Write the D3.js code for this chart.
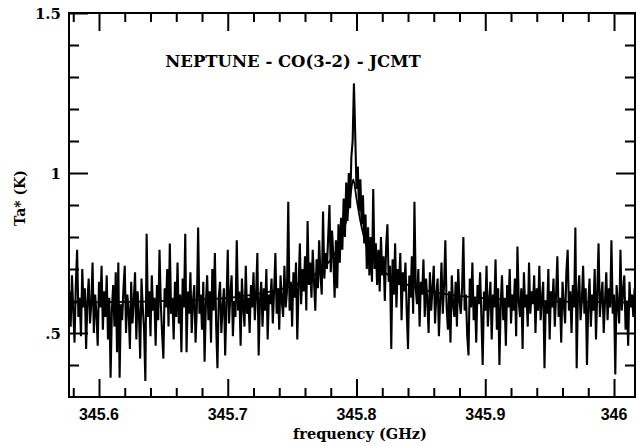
<!DOCTYPE html>
<html>
<head>
<meta charset="utf-8">
<script src="https://cdn.jsdelivr.net/npm/d3@7"></script>
<style>
  body { margin: 0; background: #fff; }
  .tick line { stroke: #000; stroke-width: 2px; }
  .domain { display: none; }
</style>
</head>
<body>
<div id="chart"></div>
<script>
// spectrum channels: first channel frequency and channel width (GHz)
var freqStart = 345.577;
var freqStep = 0.001;

// antenna temperature per channel (K)
var ta = [
  0.63, 0.52, 0.68, 0.57, 0.47, 0.65, 0.76, 0.55, 0.61, 0.49, 0.70, 0.58, 0.64, 0.45, 0.60, 0.67, 0.53, 0.59, 0.72, 0.50,
  0.62, 0.56, 0.46, 0.66, 0.58, 0.71, 0.51, 0.63, 0.55, 0.68, 0.48, 0.61, 0.36, 0.57, 0.65, 0.52, 0.69, 0.44, 0.72, 0.36,
  0.59, 0.54, 0.64, 0.71, 0.50, 0.62, 0.57, 0.45, 0.66, 0.53, 0.60, 0.69, 0.48, 0.63, 0.56, 0.42, 0.67, 0.58, 0.51, 0.35,
  0.81, 0.55, 0.63, 0.49, 0.68, 0.57, 0.61, 0.46, 0.65, 0.54, 0.76, 0.59, 0.50, 0.42, 0.64, 0.58, 0.70, 0.52, 0.78, 0.56,
  0.61, 0.48, 0.66, 0.55, 0.72, 0.53, 0.62, 0.44, 0.67, 0.58, 0.81, 0.44, 0.63, 0.56, 0.69, 0.50, 0.60, 0.65, 0.47, 0.58,
  0.83, 0.56, 0.62, 0.51, 0.66, 0.41, 0.59, 0.68, 0.54, 0.63, 0.47, 0.70, 0.57, 0.75, 0.52, 0.39, 0.61, 0.66, 0.50, 0.58,
  0.64, 0.43, 0.59, 0.76, 0.53, 0.62, 0.68, 0.49, 0.60, 0.55, 0.79, 0.57, 0.63, 0.46, 0.67, 0.58, 0.52, 0.71, 0.56, 0.61,
  0.50, 0.65, 0.58, 0.69, 0.54, 0.62, 0.75, 0.43, 0.60, 0.66, 0.52, 0.64, 0.57, 0.70, 0.48, 0.62, 0.59, 0.67, 0.53, 0.63,
  0.75, 0.56, 0.64, 0.51, 0.68, 0.60, 0.55, 0.71, 0.58, 0.63, 0.91, 0.57, 0.66, 0.52, 0.69, 0.61, 0.72, 0.48, 0.64, 0.78,
  0.59, 0.70, 0.63, 0.74, 0.57, 0.85, 0.65, 0.72, 0.61, 0.76, 0.66, 0.57, 0.73, 0.64, 0.79, 0.68, 0.62, 0.88, 0.67, 0.75,
  0.70, 0.80, 0.90, 0.69, 0.82, 0.74, 0.61, 0.79, 0.64, 0.84, 0.72, 0.86, 0.76, 0.92, 0.80, 0.97, 0.85, 1.00, 0.89, 1.05,
  1.10, 1.28, 1.12, 0.95, 1.02, 0.88, 0.98, 0.84, 0.93, 0.78, 0.87, 0.70, 0.83, 0.68, 0.80, 0.66, 0.95, 0.70, 0.78, 0.65,
  0.76, 0.63, 0.80, 0.68, 0.74, 0.60, 0.77, 0.84, 0.66, 0.71, 0.45, 0.73, 0.62, 0.78, 0.58, 0.70, 0.65, 0.75, 0.54, 0.69,
  0.63, 0.72, 0.57, 0.45, 0.68, 0.61, 0.74, 0.56, 0.91, 0.64, 0.59, 0.70, 0.52, 0.66, 0.62, 0.73, 0.55, 0.67, 0.60, 0.50,
  0.69, 0.57, 0.64, 0.71, 0.53, 0.62, 0.67, 0.49, 0.60, 0.72, 0.56, 0.65, 0.79, 0.58, 0.51, 0.63, 0.47, 0.68, 0.59, 0.55,
  0.66, 0.52, 0.70, 0.60, 0.56, 0.64, 0.80, 0.57, 0.62, 0.49, 0.43, 0.67, 0.58, 0.72, 0.54, 0.61, 0.47, 0.65, 0.59, 0.69,
  0.55, 0.40, 0.63, 0.57, 0.71, 0.52, 0.60, 0.66, 0.48, 0.62, 0.58, 0.73, 0.51, 0.64, 0.40, 0.59, 0.68, 0.54, 0.61, 0.46,
  0.65, 0.58, 0.70, 0.53, 0.62, 0.57, 0.67, 0.49, 0.77, 0.60, 0.55, 0.64, 0.45, 0.69, 0.58, 0.62, 0.52, 0.72, 0.56, 0.63,
  0.59, 0.68, 0.50, 0.64, 0.57, 0.71, 0.54, 0.61, 0.66, 0.39, 0.60, 0.56, 0.70, 0.48, 0.63, 0.58, 0.67, 0.52, 0.62, 0.74,
  0.55, 0.61, 0.47, 0.66, 0.59, 0.53, 0.69, 0.76, 0.57, 0.63, 0.50, 0.65, 0.58, 0.83, 0.39, 0.62, 0.68, 0.54, 0.60, 0.71,
  0.56, 0.64, 0.40, 0.59, 0.67, 0.52, 0.62, 0.57, 0.70, 0.48, 0.63, 0.78, 0.55, 0.61, 0.66, 0.50, 0.60, 0.69, 0.54, 0.64,
  0.58, 0.79, 0.56, 0.62, 0.37, 0.65, 0.59, 0.53, 0.76, 0.57, 0.63, 0.68, 0.51, 0.60, 0.46, 0.66, 0.58, 0.62, 0.55, 0.64
];

// fitted line profile drawn under the data
var modelFreq = [345.577, 345.62, 345.66, 345.70, 345.72, 345.74, 345.755, 345.77, 345.78,
                 345.787, 345.792, 345.795, 345.7975, 345.800, 345.803, 345.808, 345.815,
                 345.825, 345.84, 345.86, 345.89, 345.93, 345.97, 346.016];
var modelTa = [0.595, 0.597, 0.601, 0.610, 0.620, 0.636, 0.655, 0.690, 0.730,
               0.780, 0.850, 0.920, 0.980, 0.920, 0.850, 0.770, 0.720,
               0.680, 0.650, 0.628, 0.612, 0.602, 0.597, 0.595];

// axis ticks
var xMajor = [345.6, 345.7, 345.8, 345.9, 346.0];
var xMajorLabels = ["345.6", "345.7", "345.8", "345.9", "346"];
var xMinor = [345.58, 345.62, 345.64, 345.66, 345.68, 345.72, 345.74, 345.76, 345.78,
              345.82, 345.84, 345.86, 345.88, 345.92, 345.94, 345.96, 345.98];
var yMajor = [0.5, 1.0, 1.5];
var yMajorLabels = [".5", "1", "1.5"];
var yMinor = [0.4, 0.6, 0.7, 0.8, 0.9, 1.1, 1.2, 1.3, 1.4];

var title = "NEPTUNE - CO(3-2) - JCMT";
var xTitle = "frequency (GHz)";
var yTitle = "Ta* (K)";

window.onload = function () {
    drawSpectrum();
};

function drawSpectrum() {
    var svg = d3.select("#chart").append("svg")
        .attr("width", 637).attr("height", 446);

    var left = 69, right = 635, top = 13, bottom = 397;

    var x = d3.scaleLinear().domain([345.5767, 346.0163]).range([left, right]);
    var y = d3.scaleLinear().domain([0.3, 1.5]).range([bottom, top]);

    svg.append("clipPath").attr("id", "plot")
        .append("rect")
        .attr("x", left).attr("y", top)
        .attr("width", right - left).attr("height", bottom - top);

    var channels = ta.map(function (v, i) {
        return { f: freqStart + i * freqStep, t: v };
    });

    var line = d3.line()
        .x(function (d) { return x(d.f); })
        .y(function (d) { return y(d.t); });

    // fitted profile first, the noisy data on top hides most of it
    var model = modelFreq.map(function (f, i) { return { f: f, t: modelTa[i] }; });
    svg.append("path")
        .datum(model)
        .attr("clip-path", "url(#plot)")
        .attr("fill", "none")
        .attr("stroke", "#000")
        .attr("stroke-width", 1.8)
        .attr("d", d3.line().curve(d3.curveMonotoneX)
            .x(function (d) { return x(d.f); })
            .y(function (d) { return y(d.t); }));

    svg.append("path")
        .datum(channels)
        .attr("clip-path", "url(#plot)")
        .attr("fill", "none")
        .attr("stroke", "#000")
        .attr("stroke-width", 2.1)
        .attr("d", line);

    // frame
    svg.append("rect")
        .attr("x", left).attr("y", top)
        .attr("width", right - left).attr("height", bottom - top)
        .attr("fill", "none").attr("stroke", "#000").attr("stroke-width", 2);

    // ticks, all pointing inwards
    svg.append("g").attr("transform", "translate(0," + bottom + ")")
        .call(d3.axisBottom(x).tickValues(xMinor).tickSize(-9).tickFormat(""));
    svg.append("g").attr("transform", "translate(0," + bottom + ")")
        .call(d3.axisBottom(x).tickValues(xMajor).tickSize(-18).tickFormat(""));
    svg.append("g").attr("transform", "translate(0," + top + ")")
        .call(d3.axisTop(x).tickValues(xMinor).tickSize(-9).tickFormat(""));
    svg.append("g").attr("transform", "translate(0," + top + ")")
        .call(d3.axisTop(x).tickValues(xMajor).tickSize(-18).tickFormat(""));
    svg.append("g").attr("transform", "translate(" + left + ",0)")
        .call(d3.axisLeft(y).tickValues(yMinor).tickSize(-10).tickFormat(""));
    svg.append("g").attr("transform", "translate(" + left + ",0)")
        .call(d3.axisLeft(y).tickValues(yMajor).tickSize(-19).tickFormat(""));
    svg.append("g").attr("transform", "translate(" + right + ",0)")
        .call(d3.axisRight(y).tickValues(yMinor).tickSize(-10).tickFormat(""));
    svg.append("g").attr("transform", "translate(" + right + ",0)")
        .call(d3.axisRight(y).tickValues(yMajor).tickSize(-19).tickFormat(""));

    // tick labels
    svg.append("g").selectAll("text")
        .data(xMajor)
        .enter().append("text")
        .attr("x", function (d) { return x(d); })
        .attr("y", 420)
        .attr("text-anchor", "middle")
        .style("font-family", "'Liberation Sans', Arial, sans-serif")
        .style("font-weight", "bold")
        .style("font-size", "16px")
        .text(function (d, i) { return xMajorLabels[i]; });

    svg.append("g").selectAll("text")
        .data(yMajor)
        .enter().append("text")
        .attr("x", 61)
        .attr("y", function (d) { return y(d) + 6; })
        .attr("text-anchor", "end")
        .style("font-family", "'DejaVu Serif', serif")
        .style("font-weight", "bold")
        .style("font-size", "15px")
        .text(function (d, i) { return yMajorLabels[i]; });

    // titles
    svg.append("text")
        .attr("x", 293).attr("y", 67)
        .attr("text-anchor", "middle")
        .style("font-family", "'DejaVu Serif', serif")
        .style("font-weight", "bold")
        .style("font-size", "16.5px")
        .text(title);

    svg.append("text")
        .attr("x", 360).attr("y", 439)
        .attr("text-anchor", "middle")
        .style("font-family", "'DejaVu Serif', serif")
        .style("font-weight", "bold")
        .style("font-size", "14.5px")
        .text(xTitle);

    svg.append("text")
        .attr("transform", "translate(25,198) rotate(-90)")
        .attr("text-anchor", "middle")
        .style("font-family", "'DejaVu Serif', serif")
        .style("font-weight", "bold")
        .style("font-size", "14px")
        .text(yTitle);
}
</script>
</body>
</html>
